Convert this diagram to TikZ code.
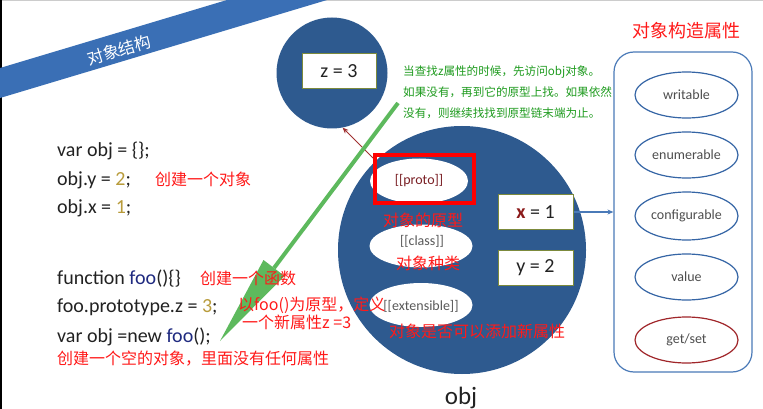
\documentclass[tikz,border=0pt]{standalone}
\usepackage{fontspec}
\setmainfont{Carlito}
\newfontfamily\cjk{Noto Sans CJK SC}
\usetikzlibrary{shapes.geometric,arrows.meta}
\definecolor{banner}{HTML}{3A6FB5}
\definecolor{ball}{HTML}{2E5A8F}
\definecolor{boxline}{HTML}{7C8A3C}
\definecolor{panelline}{HTML}{4A7AB8}
\definecolor{ellline}{HTML}{3565A5}
\definecolor{getset}{HTML}{A0262A}
\definecolor{txt}{HTML}{222222}
\definecolor{numc}{HTML}{B89B3A}
\definecolor{fooc}{HTML}{1F2A80}
\definecolor{cnred}{HTML}{FF1A1A}
\definecolor{cngreen}{HTML}{1E9B1E}
\definecolor{xred}{HTML}{8B1A1A}
\definecolor{protoc}{HTML}{7A1F24}
\definecolor{arrowgreen}{HTML}{5DB95D}
\definecolor{redarrow}{HTML}{A03030}
\tikzset{
  code/.style={anchor=base west, inner sep=0, text=txt, font=\fontsize{20}{24}\selectfont},
  cnnote/.style={anchor=base west, inner sep=0, text=cnred, font=\cjk\fontsize{16}{18}\selectfont},
  cnlabel/.style={inner sep=0, text=cnred, font=\cjk\fontsize{16}{18}\selectfont},
  greennote/.style={anchor=base west, inner sep=0, text=cngreen, font=\cjk\fontsize{11.6}{13}\selectfont},
  valbox/.style={draw=boxline, line width=1pt, fill=white, minimum width=75pt, minimum height=35pt, inner sep=0, text=txt, font=\fontsize{20}{22}\selectfont},
  innerell/.style={ellipse, fill=white, inner sep=0, minimum width=102pt, minimum height=44pt, text=gray!70!black, font=\fontsize{14}{16}\selectfont},
  propell/.style={ellipse, draw=ellline, line width=1.2pt, fill=white, inner sep=0, minimum width=103pt, minimum height=46pt, text=txt!80, font=\fontsize{14}{16}\selectfont},
}
\begin{document}
\begin{tikzpicture}[x=1pt,y=-1pt]
\useasboundingbox (0,0) rectangle (763,409);
\fill[white] (0,0) rectangle (763,409);
% frame
\draw[gray!40, line width=1pt] (0,1) -- (763,1);
\draw[black, line width=1.5pt] (1,0) -- (1,409);
% banner
\fill[banner] (0,68) -- (227,0) -- (327,0) -- (0,98) -- cycle;
\node[rotate=16.7, text=white, font=\cjk\fontsize{16.5}{18}\selectfont, inner sep=0] (bannertext) at (119,50) {对象结构};

% small circle (prototype)
\node[circle, fill=ball, minimum size=111pt, inner sep=0] (small) at (332,73) {};
\node[valbox, minimum width=74pt] (zbox) at (339,71.5) {z = 3};

% big circle (obj)
\node[circle, fill=ball, minimum size=248pt, inner sep=0] (big) at (462,250) {};
\node[innerell, minimum width=98pt, minimum height=45pt, text=protoc] (proto) at (419,181) {[[proto]]};
\node[draw=red, line width=4pt, minimum width=99pt, minimum height=48pt, inner sep=0] (protobox) at (424.5,179) {};
\node[innerell, minimum width=103pt, minimum height=43pt] (class) at (421,246) {};
\node[innerell, minimum width=103pt, minimum height=44pt] (ext) at (421,305) {};
\node[inner sep=0, text=gray!70!black, font=\fontsize{14}{16}\selectfont] (classtext) at (422,241) {[[class]]};
\node[inner sep=0, text=gray!70!black, font=\fontsize{14}{16}\selectfont] (exttext) at (421,306) {[[extensible]]};
\node[cnlabel] (protolabel) at (423,220) {对象的原型};
\node[cnlabel] (classlabel) at (428,263) {对象种类};
\node[cnlabel] (extlabel) at (477,331) {对象是否可以添加新属性};
\node[valbox] (xbox) at (535.5,212) {{\color{xred}\textbf{x}} = 1};
\node[valbox] (ybox) at (535.5,267.5) {y = 2};
\node[anchor=base, inner sep=0, text=txt, font=\fontsize{25}{28}\selectfont] (objlabel) at (461,404) {obj};

% red arrow proto -> prototype circle
\draw[redarrow, line width=0.8pt, -{Stealth[length=6pt,width=5pt]}] (373,158) -- (small.-79);

% green note
\node[greennote] (g1) at (403,76) {当查找z属性的时候，先访问obj对象。};
\node[greennote] (g2) at (403,97) {如果没有，再到它的原型上找。如果依然};
\node[greennote] (g3) at (403,118) {没有，则继续找找到原型链末端为止。};

% green arrow
\coordinate (gstart) at (398,103);
\coordinate (gbase) at (274,268);
\coordinate (gtip) at (220,341);
\draw[arrowgreen, line width=4pt] (gstart) -- (gbase);
\fill[arrowgreen] (263.5,260) -- (284.5,276) -- (gtip) -- cycle;

% right panel
\node[text=cnred, font=\cjk\fontsize{18}{20}\selectfont, inner sep=0] (paneltitle) at (686,31) {对象构造属性};
\node[draw=panelline, line width=1.2pt, rounded corners=20pt, minimum width=138pt, minimum height=320pt, inner sep=0] (panel) at (683,212) {};
\node[propell] (writable) at (686.5,95) {writable};
\node[propell] (enumerable) at (686.5,155) {enumerable};
\node[propell, minimum height=48pt] (configurable) at (686.5,216) {configurable};
\node[propell] (value) at (686.5,277) {value};
\node[propell, draw=getset] (getsetnode) at (686.5,340) {get/set};
\draw[panelline, line width=1.2pt, -{Stealth[length=6pt,width=5pt]}] (xbox.east) -- (panel.west);

% code
\node[code] (c1) at (57,157) {var obj = \{\};};
\node[code] (c2) at (57,185) {obj.y = {\color{numc}2};};
\node[cnnote] (n1) at (155,185) {创建一个对象};
\node[code] (c3) at (57,213) {obj.x = {\color{numc}1};};
\node[code] (c4) at (57,284) {function {\color{fooc}foo}()\{\}};
\node[cnnote] (n2) at (200,284) {创建一个函数};
\node[code] (c5) at (57,312) {foo.prototype.z = {\color{numc}3};};
\node[cnnote] (n3) at (238,310) {以foo()为原型，定义};
\node[cnnote] (n4) at (242,328) {一个新属性z =3};
\node[code] (c6) at (57,342) {var obj =new {\color{fooc}foo}();};
\node[cnnote] (n5) at (57,364) {创建一个空的对象，里面没有任何属性};
\end{tikzpicture}
\end{document}
